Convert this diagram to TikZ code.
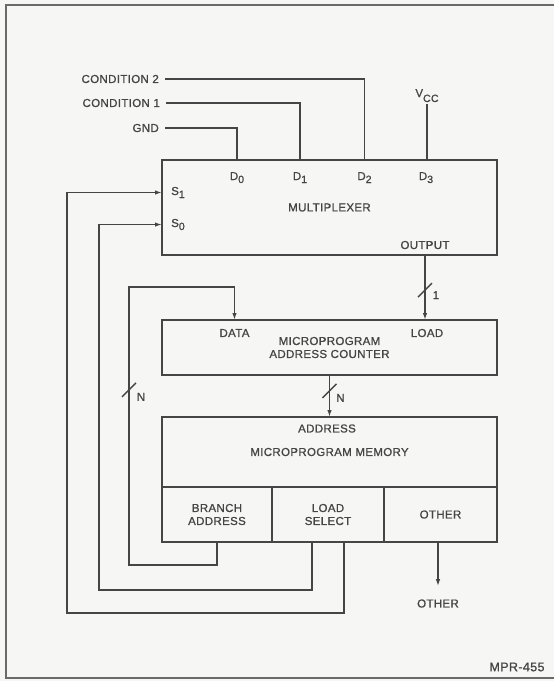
\documentclass[tikz,border=0pt]{standalone}
\usepackage{fontspec}
\usetikzlibrary{arrows.meta, positioning}
\newfontfamily\lblfont{Liberation Sans}[LetterSpace=3, FakeBold=1]
\definecolor{ink}{HTML}{454545}
\definecolor{paper}{HTML}{F6F6F4}
\newcommand{\lowr}[2][3pt]{\raisebox{-#1}{\fontsize{10.5}{10.5}\selectfont #2}}

\begin{document}
\begin{tikzpicture}[
  x=1pt, y=-1pt,
  txt/.style={font=\lblfont\fontsize{11.5}{13}\selectfont, text=ink, inner sep=2pt},
  src/.style={txt, anchor=east, inner xsep=6pt},
  box/.style={draw=ink, line width=2pt, inner sep=0pt, outer sep=0pt, align=center, txt},
  wire/.style={draw=ink, line width=1.4pt},
  arr/.style={wire, -{Latex[length=7pt,width=4.5pt]}},
  frame/.style={draw=ink!80, line width=1.5pt}
]
  \fill[paper] (0,0) rectangle (554,681);
  \useasboundingbox (0,0) rectangle (554,681);
  \draw[frame] (554,5) -- (6,5) -- (6,678) -- (554,678);

  \node[box, minimum width=335pt, minimum height=95pt] (mux) at (329.5,207.5) {MULTIPLEXER};
  \node[box, minimum width=335pt, minimum height=55pt] (ctr) at (329.5,347.5) {MICROPROGRAM\\ADDRESS COUNTER};
  \node[box, minimum width=335pt, minimum height=70pt] (mem) at (329.5,452) {MICROPROGRAM MEMORY};
  \node[box, minimum width=110pt, minimum height=55pt, anchor=north west] (branch) at (mem.south west) {BRANCH\\ADDRESS};
  \node[box, minimum width=112pt, minimum height=55pt, right=0pt of branch] (lsel) {LOAD\\SELECT};
  \node[box, minimum width=113pt, minimum height=55pt, right=0pt of lsel] (other) {OTHER};

  \node[src] (cond2) at (165,79) {CONDITION 2};
  \node[src] (cond1) at (166,103) {CONDITION 1};
  \node[src] (gnd) at (165,128) {GND};
  \node[txt, anchor=base] (vcc) at (427,97) {V\lowr[5pt]{CC}};
  \node[txt, anchor=base] (d0) at (237,180) {D\lowr{0}};
  \node[txt, anchor=base] (d1) at (300,180) {D\lowr{1}};
  \node[txt, anchor=base] (d2) at (364.5,180) {D\lowr{2}};
  \node[txt, anchor=base] (d3) at (426,180) {D\lowr{3}};
  \node[txt, anchor=base west] (s1) at (169,195) {S\lowr{1}};
  \node[txt, anchor=base west] (s0) at (169,227) {S\lowr{0}};
  \node[txt] (outp) at (425,245) {OUTPUT};
  \node[txt] (data) at (234.5,333) {DATA};
  \node[txt] (load) at (427,333) {LOAD};
  \node[txt] (addr) at (327,428.5) {ADDRESS};
  \node[txt] (othout) at (438,603.5) {OTHER};
  \node[txt, font=\lblfont\fontsize{12.5}{14}\selectfont] (tag) at (517,667) {MPR-455};

  \draw[wire] (cond2.east) -| (mux.north -| d2);
  \draw[wire] (cond1.east) -| (mux.north -| d1);
  \draw[wire] (gnd.east) -| (mux.north -| d0);
  \draw[wire] (vcc.south) -- (mux.north -| vcc.south);

  \draw[arr] (mux.south -| outp) -- coordinate[pos=.54] (cut1) (ctr.north -| outp);
  \draw[wire] ([shift={(-7pt,-7pt)}]cut1) -- ([shift={(7pt,7pt)}]cut1);
  \node[txt] (w1) at ([shift={(11pt,-5pt)}]cut1) {1};

  \draw[arr] (ctr.south) -- coordinate[pos=.38] (cut2) (mem.north);
  \draw[wire] ([shift={(-7pt,-7pt)}]cut2) -- ([shift={(7pt,7pt)}]cut2);
  \node[txt] (w2) at ([shift={(11pt,-7pt)}]cut2) {N};

  \draw[arr] (branch.south) -- ++(0,23) -| coordinate[pos=.815] (cut3) ([shift={(-33pt,33pt)}]ctr.north west) -| (ctr.north -| data);
  \draw[wire] ([shift={(-7pt,-7pt)}]cut3) -- ([shift={(7pt,7pt)}]cut3);
  \node[txt] (w3) at ([shift={(12pt,-7pt)}]cut3) {N};

  \draw[arr] ([xshift=-16pt]lsel.south) -- ++(0,48) -| ([xshift=-63pt]mux.west |- s0) -- (mux.west |- s0);
  \draw[arr] ([xshift=16pt]lsel.south) -- ++(0,71) -| ([xshift=-95pt]mux.west |- s1) -- (mux.west |- s1);

  \draw[arr] (other.south -| othout) -- ([yshift=11pt]othout.north);
\end{tikzpicture}
\end{document}
